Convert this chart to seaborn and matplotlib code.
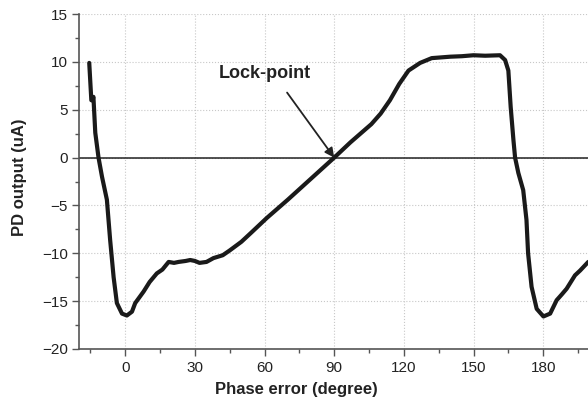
import numpy as np
import pandas as pd
import seaborn as sns
import matplotlib.pyplot as plt
from matplotlib.ticker import MultipleLocator

# phase error (degree) and PD output (uA)
phase = [-15.5, -14.6, -14.2, -13.7, -12.9, -11.5, -10.0, -7.9, -6.5, -5.0,
         -3.6, -1.4, 0.7, 2.9, 4.3, 7.9, 10.5, 13.6, 16.0, 18.7,
         21.0, 23.0, 26.0, 28.0, 30.0, 32.0, 35.0, 38.0, 42.0, 45.0,
         50.0, 54.0, 61.0, 70.0, 80.0, 90.0, 97.0, 106.0, 110.0, 114.0,
         118.0, 122.0, 127.0, 132.0, 140.0, 145.0, 150.0, 155.0, 161.4, 163.6,
         165.0, 166.0, 167.2, 167.9, 169.3, 171.4, 172.8, 173.5, 175.0, 177.2,
         180.1, 183.0, 185.8, 188.0, 190.1, 193.7, 195.9, 199.4]
pd_out = [9.9, 6.0, 6.0, 6.35, 2.6, 0.0, -2.0, -4.4, -8.6, -12.5,
          -15.2, -16.3, -16.5, -16.1, -15.2, -14.0, -13.0, -12.1, -11.7, -10.9,
          -11.0, -10.9, -10.8, -10.7, -10.8, -11.0, -10.9, -10.5, -10.2, -9.7,
          -8.8, -7.9, -6.3, -4.4, -2.2, 0.0, 1.6, 3.5, 4.6, 6.0,
          7.7, 9.1, 9.9, 10.4, 10.55, 10.6, 10.7, 10.65, 10.7, 10.2,
          9.1, 5.3, 1.8, 0.0, -1.6, -3.4, -6.5, -10.0, -13.5, -15.8,
          -16.6, -16.3, -14.9, -14.3, -13.7, -12.3, -11.8, -10.9]

xticks = [0, 30, 60, 90, 120, 150, 180]
yticks = [-20, -15, -10, -5, 0, 5, 10, 15]

df = pd.DataFrame({"phase": phase, "pd": pd_out})

sns.set_style("ticks")
plt.rcParams["font.family"] = ["Liberation Sans", "DejaVu Sans"]

fig = plt.figure(figsize=(5.88, 4.03), dpi=100)
ax = fig.add_axes([0.134, 0.134, 0.866, 0.831])

ax.grid(True, which="major", color="#c8c8c8", linestyle=":", linewidth=0.8)
ax.axhline(0, color="#222222", linewidth=1.1, zorder=2)

sns.lineplot(data=df, x="phase", y="pd", ax=ax, color="#1a1a1a",
             linewidth=3.0, sort=False, zorder=3)

ax.set_xlim(-20, 199.3)
ax.set_ylim(-20, 15)
ax.set_xticks(xticks)
ax.set_yticks(yticks)
ax.xaxis.set_minor_locator(MultipleLocator(15))
ax.yaxis.set_minor_locator(MultipleLocator(2.5))

for s in ["top", "right"]:
    ax.spines[s].set_visible(False)
for s in ["left", "bottom"]:
    ax.spines[s].set_color("#555555")
    ax.spines[s].set_linewidth(1.2)

ax.tick_params(which="both", bottom=True, left=True, top=False, right=False)
ax.tick_params(which="major", direction="out", length=5, width=1,
               color="#555555", labelsize=11, labelcolor="#222222")
ax.tick_params(which="minor", direction="out", length=3, width=1,
               color="#555555")
ax.tick_params(axis="x", which="major", pad=4)
ax.tick_params(axis="y", which="major", pad=3)

ax.set_xlabel("Phase error (degree)", fontsize=12, fontweight="bold",
              color="#222222")
ax.set_ylabel("PD output (uA)", fontsize=12, fontweight="bold",
              color="#222222")
ax.xaxis.set_label_coords(0.428, -0.1)
ax.yaxis.set_label_coords(-0.102, 0.513)

ax.annotate("Lock-point", xy=(90, 0), xytext=(60.3, 8.8),
            ha="center", va="center", fontsize=13, fontweight="bold",
            color="#222222")
ax.annotate("", xy=(90, 0), xytext=(69.7, 6.8),
            arrowprops=dict(arrowstyle="-|>", color="#222222", lw=1.3,
                            mutation_scale=14, shrinkA=0, shrinkB=0))

fig.savefig("out.png", dpi=100)
